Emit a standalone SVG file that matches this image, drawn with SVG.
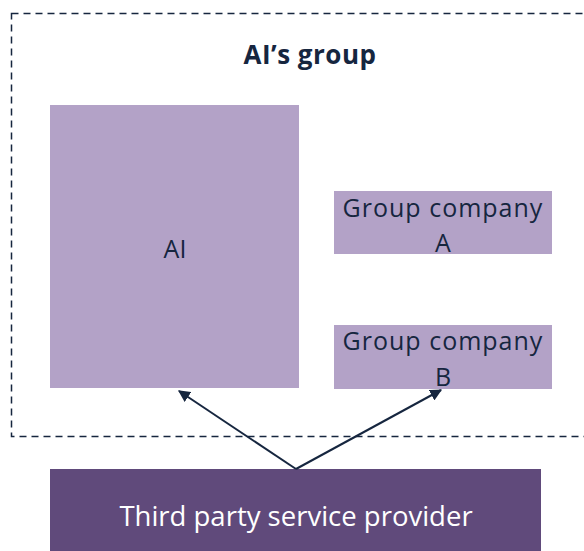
<svg xmlns="http://www.w3.org/2000/svg" width="584" height="551" viewBox="0 0 584 551">
<defs>
<style>
.box{fill:#b3a2c7;}
.dark{fill:#604a7b;}
.t{font-family:"Open Sans","Liberation Sans",sans-serif;fill:#16263f;text-anchor:middle;}
.w{font-family:"Open Sans","Liberation Sans",sans-serif;fill:#ffffff;text-anchor:middle;}
.conn{stroke:#16263f;stroke-width:2;fill:none;marker-end:url(#ah);}
</style>
<marker id="ah" viewBox="0 0 10 10" refX="9" refY="5" markerWidth="6" markerHeight="6" orient="auto" markerUnits="strokeWidth">
<path d="M0,0 L10,5 L0,10 z" fill="#16263f"/>
</marker>
</defs>
<rect width="584" height="551" fill="#ffffff"/>
<g id="group-frame">
<rect x="11.5" y="13.5" width="600" height="423" fill="none" stroke="#16263f" stroke-width="1.5" stroke-dasharray="7,5"/>
<text class="t" x="310" y="64" font-size="26" font-weight="bold" letter-spacing="0.5">AI’s group</text>
</g>
<g id="node-ai">
<rect class="box" x="50" y="105" width="249" height="283"/>
<text class="t" x="175" y="258" font-size="25">AI</text>
</g>
<g id="node-a">
<rect class="box" x="334" y="191" width="218" height="63"/>
<text class="t" x="443" y="217" font-size="25" letter-spacing="1">Group company</text>
<text class="t" x="443" y="252" font-size="25">A</text>
</g>
<g id="node-b">
<rect class="box" x="334" y="325" width="218" height="64"/>
<text class="t" x="443" y="350" font-size="25" letter-spacing="1">Group company</text>
<text class="t" x="443" y="386" font-size="25">B</text>
</g>
<g id="node-third">
<rect class="dark" x="50" y="469" width="491" height="82"/>
<text class="w" x="296" y="526" font-size="27.5">Third party service provider</text>
</g>
<g id="connectors">
<line class="conn" x1="296" y1="469" x2="179" y2="391"/>
<line class="conn" x1="296" y1="469" x2="441" y2="390"/>
</g>
</svg>
